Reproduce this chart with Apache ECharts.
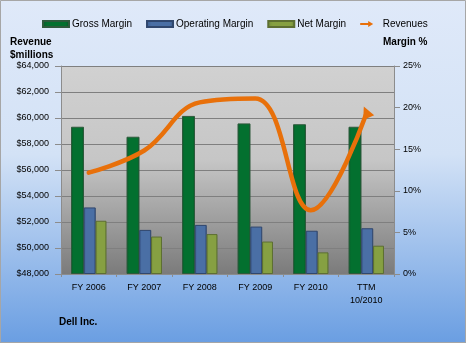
<!DOCTYPE html>
<html><head><meta charset="utf-8">
<script src="https://cdn.jsdelivr.net/npm/echarts@6/dist/echarts.min.js"></script>
<style>html,body{margin:0;padding:0;background:#fff}#c{width:466px;height:343px}</style>
</head><body><div id="c"></div>
<script>
const categories = ['FY 2006', 'FY 2007', 'FY 2008', 'FY 2009', 'FY 2010', 'TTM\n10/2010'];
const grossMargin = [17.7, 16.5, 19.0, 18.1, 18.0, 17.7];
const operatingMargin = [8.0, 5.3, 5.9, 5.7, 5.2, 5.5];
const netMargin = [6.4, 4.5, 4.8, 3.9, 2.6, 3.4];
const revenues = [55800, 57500, 61200, 61500, 52900, 60300];
const leftTicks = [48000, 64000, 2000];
const rightTicks = [0, 25, 5];

const font = 'Liberation Sans';
const G = echarts.graphic;
const chart = echarts.init(document.getElementById('c'));

const revData = revenues.map((v, i) => i === revenues.length - 1
  ? { value: v, symbol: 'triangle', symbolSize: [12, 12], symbolRotate: 24, symbolOffset: [0, -2] }
  : { value: v, symbol: 'none' });

function barStyle(c, b) {
  return { color: c, borderColor: b, borderWidth: 1 };
}

chart.setOption({
  animation: false,
  backgroundColor: new G.LinearGradient(0, 0, 0, 1, [
    { offset: 0, color: '#dfe9f9' },
    { offset: 0.45, color: '#d3e2f6' },
    { offset: 1, color: '#6a9ee2' }
  ]),
  textStyle: { fontFamily: font },
  graphic: [
    { type: 'rect', shape: { x: 0.5, y: 0.5, width: 465, height: 342 }, style: { fill: 'none', stroke: '#a6a6a6', lineWidth: 1 }, z: 100 },
    { type: 'text', left: 10, top: 36, style: { text: 'Revenue\n$millions', font: 'bold 10px ' + font, fill: '#000', lineHeight: 13 } },
    { type: 'text', left: 383, top: 37, style: { text: 'Margin %', font: 'bold 10px ' + font, fill: '#000' } },
    { type: 'text', left: 59, top: 317, style: { text: 'Dell Inc.', font: 'bold 10px ' + font, fill: '#000' } }
  ],
  legend: {
    top: 14, left: 37, itemGap: 14, itemWidth: 26, itemHeight: 6,
    textStyle: { fontSize: 10, fontFamily: font, color: '#000', padding: [0, 0, 0, -2] },
    data: [
      { name: 'Gross Margin', icon: 'rect' },
      { name: 'Operating Margin', icon: 'rect' },
      { name: 'Net Margin', icon: 'rect' },
      { name: 'Revenues', icon: 'path://M0,4 L16,4 L16,0 L26,6 L16,12 L16,8 L0,8 Z', itemStyle: { color: '#e8700a' } }
    ]
  },
  grid: {
    left: 61, right: 72, top: 66, bottom: 69, show: true, borderWidth: 0,
    backgroundColor: new G.LinearGradient(0, 0, 0, 1, [
      { offset: 0, color: '#d1d1d1' },
      { offset: 0.45, color: '#c6c6c6' },
      { offset: 1, color: '#7b7b7b' }
    ])
  },
  xAxis: {
    type: 'category', data: categories,
    axisLine: { show: true, lineStyle: { color: '#8c8c8c' } },
    axisTick: { show: true, alignWithLabel: false, lineStyle: { color: '#8c8c8c' }, length: 3 },
    axisLabel: { color: '#000', fontSize: 9, fontFamily: font, margin: 7, lineHeight: 13 }
  },
  yAxis: [
    {
      type: 'value', min: leftTicks[0], max: leftTicks[1], interval: leftTicks[2],
      axisLine: { show: true, lineStyle: { color: '#8c8c8c' } },
      axisTick: { show: true, length: 6, lineStyle: { color: '#8c8c8c' } },
      axisLabel: { color: '#000', fontSize: 9, fontFamily: font, margin: 12,
        formatter: v => '$' + v.toLocaleString('en-US') },
      splitLine: { show: true, lineStyle: { color: '#7f7f7f', width: 1 } }
    },
    {
      type: 'value', min: rightTicks[0], max: rightTicks[1], interval: rightTicks[2], position: 'right',
      axisLine: { show: true, lineStyle: { color: '#8c8c8c' } },
      axisTick: { show: true, length: 6, lineStyle: { color: '#8c8c8c' } },
      axisLabel: { color: '#000', fontSize: 9, fontFamily: font, margin: 9, formatter: '{value}%' },
      splitLine: { show: false }
    }
  ],
  series: [
    { name: 'Gross Margin', type: 'bar', yAxisIndex: 1, data: grossMargin, barWidth: 13, barGap: '-2%', barCategoryGap: '30%',
      itemStyle: barStyle(new G.LinearGradient(0, 0, 1, 0, [{ offset: 0, color: '#0a5a2a' }, { offset: 0.2, color: '#03702f' }, { offset: 0.85, color: '#03702f' }, { offset: 1, color: '#0a4f26' }]), '#2e5a3c') },
    { name: 'Operating Margin', type: 'bar', yAxisIndex: 1, data: operatingMargin, barWidth: 12, barGap: '-2%',
      itemStyle: barStyle(new G.LinearGradient(0, 0, 1, 0, [{ offset: 0, color: '#3d5f94' }, { offset: 0.2, color: '#4a6fa5' }, { offset: 0.85, color: '#4a6fa5' }, { offset: 1, color: '#34507d' }]), '#30476e') },
    { name: 'Net Margin', type: 'bar', yAxisIndex: 1, data: netMargin, barWidth: 11, barGap: '-2%',
      itemStyle: barStyle(new G.LinearGradient(0, 0, 1, 0, [{ offset: 0, color: '#74903a' }, { offset: 0.2, color: '#86a042' }, { offset: 0.85, color: '#86a042' }, { offset: 1, color: '#6b8334' }]), '#5d6f32') },
    { name: 'Revenues', type: 'line', yAxisIndex: 0, data: revData, smooth: 0.4, showSymbol: true,
      lineStyle: { color: '#e8700a', width: 4.5, cap: 'round' }, itemStyle: { color: '#e8700a' }, z: 10 }
  ]
});
</script></body></html>
